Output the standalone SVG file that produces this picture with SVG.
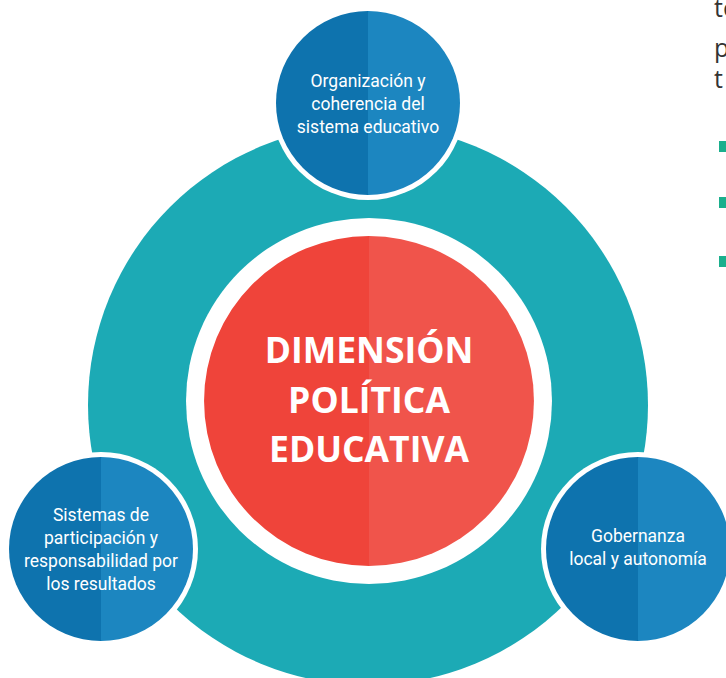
<svg xmlns="http://www.w3.org/2000/svg" width="726" height="678" viewBox="0 0 726 678">
  <style>
    .teal { fill: #1CAAB5; }
    .white { fill: #FFFFFF; }
    .redL { fill: #EF443A; }
    .redR { fill: #F0544B; }
    .blueL { fill: #0E73AE; }
    .blueR { fill: #1C86C0; }
    .lbl { font-family: Roboto, "Open Sans", "DejaVu Sans", sans-serif; font-size: 17.5px; fill: #FFFFFF; text-anchor: middle; }
    .title { font-family: "Open Sans", "DejaVu Sans", sans-serif; font-weight: bold; font-size: 35.5px; fill: #FFFFFF; text-anchor: middle; }
    .side { font-family: "Open Sans", "DejaVu Sans", sans-serif; font-size: 25px; fill: #333333; }
    .bullet { fill: #1AAF8D; }
  </style>

  <g id="ring">
    <circle class="teal" cx="368" cy="405" r="280"/>
    <circle class="white" cx="369" cy="401" r="183"/>
  </g>

  <g id="center">
    <path class="redL" d="M369 236 A165 165 0 0 0 369 566 Z"/>
    <path class="redR" d="M369 236 A165 165 0 0 1 369 566 Z"/>
    <text class="title" x="369" y="363">DIMENSIÓN</text>
    <text class="title" x="369" y="413">POLÍTICA</text>
    <text class="title" x="369" y="462">EDUCATIVA</text>
  </g>

  <g id="connectors"></g>

  <g id="top">
    <circle class="white" cx="368" cy="103" r="97"/>
    <path class="blueL" d="M368 11 A92 92 0 0 0 368 195 Z"/>
    <path class="blueR" d="M368 11 A92 92 0 0 1 368 195 Z"/>
    <text class="lbl" x="368" y="87">Organización y</text>
    <text class="lbl" x="368" y="110">coherencia del</text>
    <text class="lbl" x="368" y="133">sistema educativo</text>
  </g>

  <g id="left">
    <circle class="white" cx="101" cy="549" r="97"/>
    <path class="blueL" d="M101 457 A92 92 0 0 0 101 641 Z"/>
    <path class="blueR" d="M101 457 A92 92 0 0 1 101 641 Z"/>
    <text class="lbl" x="101" y="521">Sistemas de</text>
    <text class="lbl" x="101" y="544">participación y</text>
    <text class="lbl" x="101" y="567">responsabilidad por</text>
    <text class="lbl" x="101" y="590">los resultados</text>
  </g>

  <g id="right">
    <circle class="white" cx="638" cy="549" r="97"/>
    <path class="blueL" d="M638 457 A92 92 0 0 0 638 641 Z"/>
    <path class="blueR" d="M638 457 A92 92 0 0 1 638 641 Z"/>
    <text class="lbl" x="638" y="542">Gobernanza</text>
    <text class="lbl" x="638" y="565">local y autonomía</text>
  </g>

  <g id="side-text">
    <text class="side" x="714" y="17">te</text>
    <text class="side" x="714" y="57">p</text>
    <text class="side" x="714" y="88">t</text>
    <rect class="bullet" x="719" y="141" width="11" height="11"/>
    <rect class="bullet" x="719" y="197" width="11" height="11"/>
    <rect class="bullet" x="719" y="256" width="11" height="11"/>
  </g>
</svg>
